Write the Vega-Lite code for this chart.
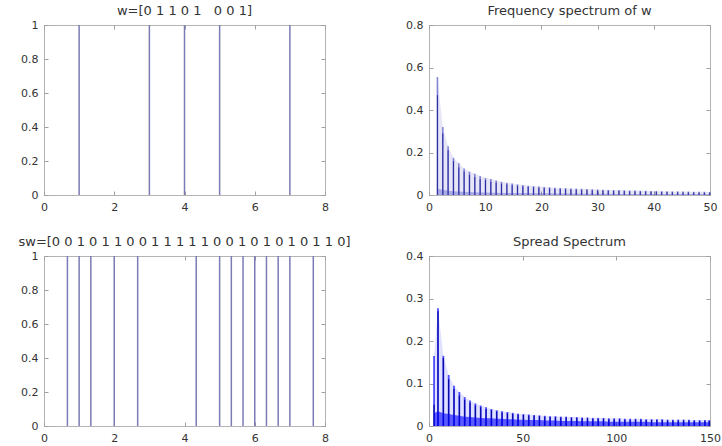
{
  "$schema": "https://vega.github.io/schema/vega-lite/v6.json",
  "padding": {"left": 18, "top": 4, "right": 5, "bottom": 5},
  "background": "white",
  "columns": 2,
  "bounds": "flush",
  "spacing": {"row": 61, "column": 104},
  "datasets": {
    "w": [{"x": 1}, {"x": 3}, {"x": 4}, {"x": 5}, {"x": 7}],
    "sw": [{"x": 0.6667}, {"x": 1}, {"x": 1.3333}, {"x": 2}, {"x": 2.6667}, {"x": 4.3333}, {"x": 5}, {"x": 5.3333}, {"x": 5.6667}, {"x": 6}, {"x": 6.3333}, {"x": 6.6667}, {"x": 7}, {"x": 7.6667}],
    "p2": [
      {"x": 1.5, "hi": 0.555, "lo": 0.47, "fl": 0.03},
      {"x": 2.45, "hi": 0.32, "lo": 0.29, "fl": 0.025},
      {"x": 3.4, "hi": 0.23, "lo": 0.21, "fl": 0.02},
      {"x": 4.35, "hi": 0.175, "lo": 0.16, "fl": 0.018},
      {"x": 5.3, "hi": 0.15, "lo": 0.13, "fl": 0.016},
      {"x": 6.25, "hi": 0.125, "lo": 0.11, "fl": 0.015},
      {"x": 7.2, "hi": 0.11, "lo": 0.095, "fl": 0.014},
      {"x": 8.15, "hi": 0.1, "lo": 0.085, "fl": 0.013},
      {"x": 9.1, "hi": 0.09, "lo": 0.075, "fl": 0.012},
      {"x": 10.05, "hi": 0.08, "lo": 0.07, "fl": 0.012},
      {"x": 11, "hi": 0.075, "lo": 0.063, "fl": 0.011},
      {"x": 11.95, "hi": 0.068, "lo": 0.058, "fl": 0.011},
      {"x": 12.9, "hi": 0.062, "lo": 0.053, "fl": 0.01},
      {"x": 13.85, "hi": 0.058, "lo": 0.05, "fl": 0.01},
      {"x": 14.8, "hi": 0.054, "lo": 0.046, "fl": 0.01},
      {"x": 15.75, "hi": 0.05, "lo": 0.043, "fl": 0.009},
      {"x": 16.7, "hi": 0.047, "lo": 0.04, "fl": 0.009},
      {"x": 17.65, "hi": 0.044, "lo": 0.038, "fl": 0.009},
      {"x": 18.6, "hi": 0.042, "lo": 0.036, "fl": 0.008},
      {"x": 19.55, "hi": 0.04, "lo": 0.034, "fl": 0.008},
      {"x": 20.5, "hi": 0.038, "lo": 0.032, "fl": 0.008},
      {"x": 21.45, "hi": 0.036, "lo": 0.031, "fl": 0.008},
      {"x": 22.4, "hi": 0.034, "lo": 0.029, "fl": 0.007},
      {"x": 23.35, "hi": 0.033, "lo": 0.028, "fl": 0.007},
      {"x": 24.3, "hi": 0.032, "lo": 0.027, "fl": 0.007},
      {"x": 25.25, "hi": 0.031, "lo": 0.026, "fl": 0.007},
      {"x": 26.2, "hi": 0.03, "lo": 0.025, "fl": 0.007},
      {"x": 27.15, "hi": 0.029, "lo": 0.024, "fl": 0.006},
      {"x": 28.1, "hi": 0.028, "lo": 0.023, "fl": 0.006},
      {"x": 29.05, "hi": 0.027, "lo": 0.022, "fl": 0.006},
      {"x": 30, "hi": 0.026, "lo": 0.021, "fl": 0.006},
      {"x": 30.95, "hi": 0.025, "lo": 0.021, "fl": 0.006},
      {"x": 31.9, "hi": 0.024, "lo": 0.02, "fl": 0.006},
      {"x": 32.85, "hi": 0.023, "lo": 0.019, "fl": 0.006},
      {"x": 33.8, "hi": 0.023, "lo": 0.019, "fl": 0.005},
      {"x": 34.75, "hi": 0.022, "lo": 0.018, "fl": 0.005},
      {"x": 35.7, "hi": 0.021, "lo": 0.017, "fl": 0.005},
      {"x": 36.65, "hi": 0.021, "lo": 0.017, "fl": 0.005},
      {"x": 37.6, "hi": 0.02, "lo": 0.016, "fl": 0.005},
      {"x": 38.55, "hi": 0.02, "lo": 0.016, "fl": 0.005},
      {"x": 39.5, "hi": 0.019, "lo": 0.015, "fl": 0.005},
      {"x": 40.45, "hi": 0.019, "lo": 0.015, "fl": 0.005},
      {"x": 41.4, "hi": 0.018, "lo": 0.014, "fl": 0.005},
      {"x": 42.35, "hi": 0.018, "lo": 0.014, "fl": 0.005},
      {"x": 43.3, "hi": 0.017, "lo": 0.013, "fl": 0.005},
      {"x": 44.25, "hi": 0.017, "lo": 0.013, "fl": 0.005},
      {"x": 45.2, "hi": 0.016, "lo": 0.012, "fl": 0.005},
      {"x": 46.15, "hi": 0.016, "lo": 0.012, "fl": 0.005},
      {"x": 47.1, "hi": 0.015, "lo": 0.012, "fl": 0.005},
      {"x": 48.05, "hi": 0.015, "lo": 0.011, "fl": 0.005},
      {"x": 49, "hi": 0.015, "lo": 0.011, "fl": 0.005},
      {"x": 49.95, "hi": 0.014, "lo": 0.011, "fl": 0.005}
    ],
    "p4": [
      {"x": 2.7, "hi": 0.165, "lo": 0.05, "fl": 0.03},
      {"x": 4.8, "hi": 0.277, "lo": 0.27, "fl": 0.035},
      {"x": 7.65, "hi": 0.165, "lo": 0.16, "fl": 0.03},
      {"x": 10.5, "hi": 0.12, "lo": 0.11, "fl": 0.028},
      {"x": 13.35, "hi": 0.095, "lo": 0.087, "fl": 0.026},
      {"x": 16.2, "hi": 0.08, "lo": 0.072, "fl": 0.024},
      {"x": 19.05, "hi": 0.068, "lo": 0.062, "fl": 0.022},
      {"x": 21.9, "hi": 0.06, "lo": 0.055, "fl": 0.021},
      {"x": 24.75, "hi": 0.053, "lo": 0.048, "fl": 0.02},
      {"x": 27.6, "hi": 0.048, "lo": 0.044, "fl": 0.019},
      {"x": 30.45, "hi": 0.044, "lo": 0.04, "fl": 0.018},
      {"x": 33.3, "hi": 0.04, "lo": 0.037, "fl": 0.018},
      {"x": 36.15, "hi": 0.037, "lo": 0.034, "fl": 0.017},
      {"x": 39, "hi": 0.035, "lo": 0.032, "fl": 0.017},
      {"x": 41.85, "hi": 0.033, "lo": 0.03, "fl": 0.016},
      {"x": 44.7, "hi": 0.031, "lo": 0.028, "fl": 0.016},
      {"x": 47.55, "hi": 0.029, "lo": 0.027, "fl": 0.015},
      {"x": 50.4, "hi": 0.028, "lo": 0.026, "fl": 0.015},
      {"x": 53.25, "hi": 0.027, "lo": 0.025, "fl": 0.014},
      {"x": 56.1, "hi": 0.026, "lo": 0.024, "fl": 0.014},
      {"x": 58.95, "hi": 0.025, "lo": 0.023, "fl": 0.014},
      {"x": 61.8, "hi": 0.024, "lo": 0.022, "fl": 0.013},
      {"x": 64.65, "hi": 0.023, "lo": 0.021, "fl": 0.013},
      {"x": 67.5, "hi": 0.023, "lo": 0.021, "fl": 0.013},
      {"x": 70.35, "hi": 0.022, "lo": 0.02, "fl": 0.012},
      {"x": 73.2, "hi": 0.022, "lo": 0.02, "fl": 0.012},
      {"x": 76.05, "hi": 0.021, "lo": 0.019, "fl": 0.012},
      {"x": 78.9, "hi": 0.021, "lo": 0.019, "fl": 0.012},
      {"x": 81.75, "hi": 0.02, "lo": 0.018, "fl": 0.011},
      {"x": 84.6, "hi": 0.02, "lo": 0.018, "fl": 0.011},
      {"x": 87.45, "hi": 0.019, "lo": 0.017, "fl": 0.011},
      {"x": 90.3, "hi": 0.019, "lo": 0.017, "fl": 0.011},
      {"x": 93.15, "hi": 0.019, "lo": 0.017, "fl": 0.011},
      {"x": 96, "hi": 0.018, "lo": 0.016, "fl": 0.01},
      {"x": 98.85, "hi": 0.018, "lo": 0.016, "fl": 0.01},
      {"x": 101.7, "hi": 0.018, "lo": 0.016, "fl": 0.01},
      {"x": 104.55, "hi": 0.017, "lo": 0.015, "fl": 0.01},
      {"x": 107.4, "hi": 0.017, "lo": 0.015, "fl": 0.01},
      {"x": 110.25, "hi": 0.017, "lo": 0.015, "fl": 0.01},
      {"x": 113.1, "hi": 0.017, "lo": 0.015, "fl": 0.01},
      {"x": 115.95, "hi": 0.016, "lo": 0.014, "fl": 0.01},
      {"x": 118.8, "hi": 0.016, "lo": 0.014, "fl": 0.009},
      {"x": 121.65, "hi": 0.016, "lo": 0.014, "fl": 0.009},
      {"x": 124.5, "hi": 0.016, "lo": 0.014, "fl": 0.009},
      {"x": 127.35, "hi": 0.015, "lo": 0.013, "fl": 0.009},
      {"x": 130.2, "hi": 0.015, "lo": 0.013, "fl": 0.009},
      {"x": 133.05, "hi": 0.015, "lo": 0.013, "fl": 0.009},
      {"x": 135.9, "hi": 0.015, "lo": 0.013, "fl": 0.009},
      {"x": 138.75, "hi": 0.015, "lo": 0.013, "fl": 0.009},
      {"x": 141.6, "hi": 0.014, "lo": 0.012, "fl": 0.009},
      {"x": 144.45, "hi": 0.014, "lo": 0.012, "fl": 0.009},
      {"x": 147.3, "hi": 0.014, "lo": 0.012, "fl": 0.009},
      {"x": 149.6, "hi": 0.014, "lo": 0.012, "fl": 0.009}
    ]
  },
  "concat": [
    {
      "title": "w=[0 1 1 0 1 \u00a0 0 0 1]",
      "width": 281, "height": 170,
      "data": {"name": "w"},
      "layer": [
        {
          "mark": {"type": "rule", "color": "#7b7bb5", "strokeWidth": 1.5},
          "encoding": {
            "x": {"field": "x", "type": "quantitative", "scale": {"domain": [0, 8], "nice": false}, "axis": {"values": [0, 2, 4, 6, 8], "title": null}},
            "y": {"datum": 0, "type": "quantitative", "scale": {"domain": [0, 1], "nice": false}, "axis": {"values": [0, 0.2, 0.4, 0.6, 0.8, 1], "title": null, "labelExpr": "'' + datum.value"}},
            "y2": {"datum": 1}
          }
        },
        {
          "mark": {"type": "point", "opacity": 0},
          "encoding": {
            "x": {"field": "x", "type": "quantitative", "axis": {"orient": "top", "labels": false, "values": [0, 2, 4, 6, 8], "title": null}},
            "y": {"datum": 0, "type": "quantitative", "axis": {"orient": "right", "labels": false, "values": [0, 0.2, 0.4, 0.6, 0.8, 1], "title": null}}
          }
        }
      ],
      "resolve": {"axis": {"x": "independent", "y": "independent"}}
    },
    {
      "title": "Frequency spectrum of w",
      "width": 281, "height": 170,
      "data": {"name": "p2"},
      "layer": [
        {
          "mark": {"type": "area", "color": "#5555cc", "opacity": 0.15},
          "encoding": {
            "x": {"field": "x", "type": "quantitative", "scale": {"domain": [0, 50], "nice": false}, "axis": {"values": [0, 10, 20, 30, 40, 50], "title": null}},
            "y": {"field": "hi", "type": "quantitative", "scale": {"domain": [0, 0.8], "nice": false}, "axis": {"values": [0, 0.2, 0.4, 0.6, 0.8], "title": null, "labelExpr": "'' + datum.value"}}
          }
        },
        {
          "mark": {"type": "rule", "color": "#8585d5", "strokeWidth": 1.6},
          "encoding": {
            "x": {"field": "x", "type": "quantitative", "axis": null},
            "y": {"field": "hi", "type": "quantitative", "axis": null},
            "y2": {"datum": 0}
          }
        },
        {
          "mark": {"type": "rule", "color": "#2a2aa0", "strokeWidth": 1},
          "encoding": {
            "x": {"field": "x", "type": "quantitative", "axis": null},
            "y": {"field": "lo", "type": "quantitative", "axis": null},
            "y2": {"datum": 0}
          }
        },
        {
          "mark": {"type": "area", "color": "#4040c0", "opacity": 0.35},
          "encoding": {
            "x": {"field": "x", "type": "quantitative", "axis": null},
            "y": {"field": "fl", "type": "quantitative", "axis": null}
          }
        },
        {
          "mark": {"type": "point", "opacity": 0},
          "encoding": {
            "x": {"field": "x", "type": "quantitative", "axis": {"orient": "top", "labels": false, "values": [0, 10, 20, 30, 40, 50], "title": null}},
            "y": {"field": "hi", "type": "quantitative", "axis": {"orient": "right", "labels": false, "values": [0, 0.2, 0.4, 0.6, 0.8], "title": null}}
          }
        }
      ],
      "resolve": {"axis": {"x": "independent", "y": "independent"}}
    },
    {
      "title": "sw=[0 0 1 0 1 1 0 0 1 1 1 1 1 0 0 1 0 1 0 1 0 1 1 0]",
      "width": 281, "height": 170,
      "data": {"name": "sw"},
      "layer": [
        {
          "mark": {"type": "rule", "color": "#7b7bb5", "strokeWidth": 1.5},
          "encoding": {
            "x": {"field": "x", "type": "quantitative", "scale": {"domain": [0, 8], "nice": false}, "axis": {"values": [0, 2, 4, 6, 8], "title": null}},
            "y": {"datum": 0, "type": "quantitative", "scale": {"domain": [0, 1], "nice": false}, "axis": {"values": [0, 0.2, 0.4, 0.6, 0.8, 1], "title": null, "labelExpr": "'' + datum.value"}},
            "y2": {"datum": 1}
          }
        },
        {
          "mark": {"type": "point", "opacity": 0},
          "encoding": {
            "x": {"field": "x", "type": "quantitative", "axis": {"orient": "top", "labels": false, "values": [0, 2, 4, 6, 8], "title": null}},
            "y": {"datum": 0, "type": "quantitative", "axis": {"orient": "right", "labels": false, "values": [0, 0.2, 0.4, 0.6, 0.8, 1], "title": null}}
          }
        }
      ],
      "resolve": {"axis": {"x": "independent", "y": "independent"}}
    },
    {
      "title": "Spread Spectrum",
      "width": 281, "height": 170,
      "data": {"name": "p4"},
      "layer": [
        {
          "mark": {"type": "area", "color": "#0000ff", "opacity": 0.12},
          "encoding": {
            "x": {"field": "x", "type": "quantitative", "scale": {"domain": [0, 150], "nice": false}, "axis": {"values": [0, 50, 100, 150], "title": null}},
            "y": {"field": "hi", "type": "quantitative", "scale": {"domain": [0, 0.4], "nice": false}, "axis": {"values": [0, 0.1, 0.2, 0.3, 0.4], "title": null, "labelExpr": "'' + datum.value"}}
          }
        },
        {
          "mark": {"type": "rule", "color": "#4d4dff", "strokeWidth": 1.8},
          "encoding": {
            "x": {"field": "x", "type": "quantitative", "axis": null},
            "y": {"field": "hi", "type": "quantitative", "axis": null},
            "y2": {"datum": 0}
          }
        },
        {
          "mark": {"type": "rule", "color": "#00009a", "strokeWidth": 1.1},
          "encoding": {
            "x": {"field": "x", "type": "quantitative", "axis": null},
            "y": {"field": "lo", "type": "quantitative", "axis": null},
            "y2": {"datum": 0}
          }
        },
        {
          "mark": {"type": "area", "color": "#0000ff", "opacity": 0.6},
          "encoding": {
            "x": {"field": "x", "type": "quantitative", "axis": null},
            "y": {"field": "fl", "type": "quantitative", "axis": null}
          }
        },
        {
          "mark": {"type": "point", "opacity": 0},
          "encoding": {
            "x": {"field": "x", "type": "quantitative", "axis": {"orient": "top", "labels": false, "values": [0, 50, 100, 150], "title": null}},
            "y": {"field": "hi", "type": "quantitative", "axis": {"orient": "right", "labels": false, "values": [0, 0.1, 0.2, 0.3, 0.4], "title": null}}
          }
        }
      ],
      "resolve": {"axis": {"x": "independent", "y": "independent"}}
    }
  ],
  "config": {
    "font": "DejaVu Sans",
    "view": {"stroke": "#b4b4b4", "strokeWidth": 1},
    "axis": {
      "domain": false, "grid": false, "ticks": true, "tickSize": -4, "tickColor": "#a0a0a0",
      "labelFont": "DejaVu Sans", "labelFontSize": 11, "labelColor": "#333333", "labelPadding": 10,
      "labelFlush": false, "labelOverlap": false
    },
    "title": {"font": "DejaVu Sans", "fontSize": 13, "fontWeight": "normal", "color": "#333333", "offset": 1}
  }
}
